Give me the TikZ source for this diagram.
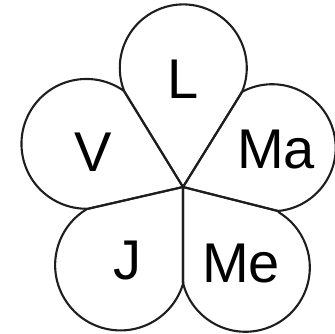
\documentclass[tikz,border=0pt]{standalone}
\usepackage{fontspec}
\setmainfont{Liberation Sans}
\usetikzlibrary{calc}
\definecolor{ink}{HTML}{1E1E1E}
\tikzset{
  petal/.style={draw=ink,line width=2.1pt,line join=round},
  lbl/.style={inner sep=0pt,text=black,font=\fontsize{56}{60}\selectfont},
}
% #1 circle centre, #2 and #3 the seam ends of the arc (anticlockwise)
\newcommand{\drawpetal}[3]{%
  \draw[petal] let \p1=($(#2)-(#1)$), \p2=($(#3)-(#1)$),
    \n1={atan2(\y1,\x1)}, \n2={atan2(\y2,\x2)},
    \n3={(veclen(\x1,\y1)+veclen(\x2,\y2))/2} in
    (ctr) -- (#2) arc[start angle=\n1, delta angle={mod(\n2-(\n1)+720,360)}, radius=\n3] -- (#3) -- cycle;}

\begin{document}
\begin{tikzpicture}[x=1pt,y=1pt]
\useasboundingbox (0,0) rectangle (334,334);
% centre of the flower and the seams between petals
\coordinate (ctr) at (183,147);
\coordinate (lv) at (124,243);
\coordinate (lma) at (242,242);
\coordinate (vj) at (87,125);
\coordinate (mame) at (278,123);
\coordinate (jme) at (183,51);
% circle centres of the petals
\coordinate (cl) at (183.5,266);
\coordinate (cv) at (87,191);
\coordinate (cj) at (121,68);
\coordinate (cme) at (243,66);
\coordinate (cma) at (272,188);
\drawpetal{cl}{lma}{lv}
\drawpetal{cv}{lv}{vj}
\drawpetal{cj}{vj}{jme}
\drawpetal{cme}{jme}{mame}
\drawpetal{cma}{mame}{lma}
% day labels
\node[lbl] (l) at (183.5,255) {L};
\node[lbl] (v) at (93,182) {V};
\node[lbl] (ma) at (276,184) {Ma};
\node[lbl] (j) at (127,73) {J};
\node[lbl] (me) at (241,70) {Me};
\end{tikzpicture}
\end{document}
